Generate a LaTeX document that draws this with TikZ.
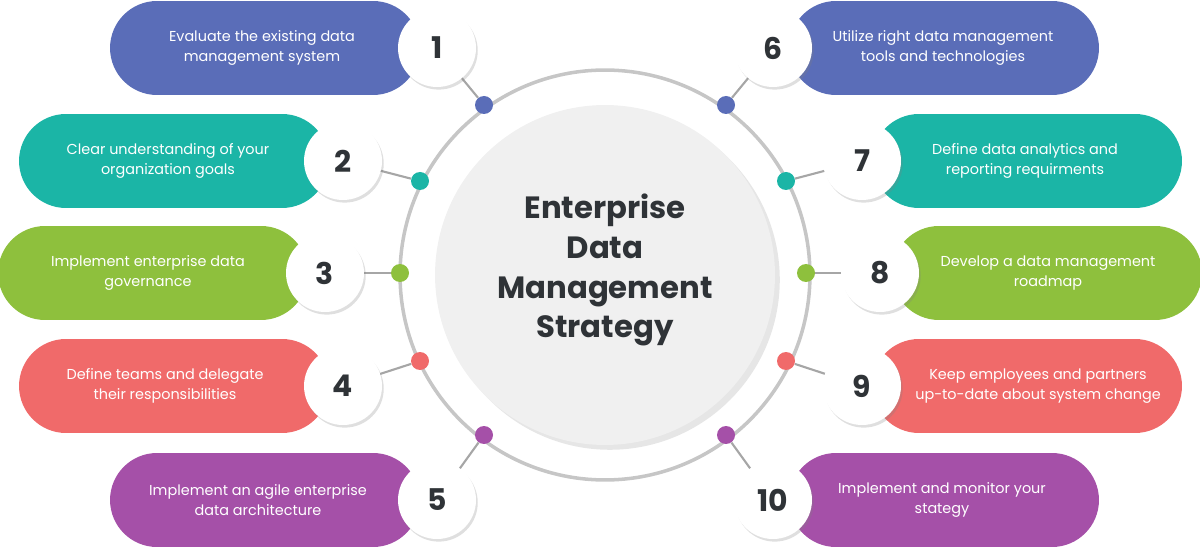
\documentclass[tikz,border=0pt]{standalone}
\usepackage{fontspec}
\setmainfont{Poppins}
\usetikzlibrary{shadows}
\definecolor{cblue}{HTML}{5A6DB8}
\definecolor{cteal}{HTML}{1BB5A6}
\definecolor{cgreen}{HTML}{8EC03D}
\definecolor{cred}{HTML}{F06A6A}
\definecolor{cpurple}{HTML}{A550A8}
\definecolor{ctitle}{HTML}{2F3337}
\tikzset{
  pill/.style={fill=#1,rounded corners=0.94cm,minimum height=1.88cm,minimum width=6.2cm,inner sep=0pt},
  pilltext/.style={text=white,align=center,font=\fontsize{8.2}{11.4}\selectfont},
  numbox/.style={circle,fill=white,minimum size=1.56cm,inner sep=0pt,font=\fontsize{17}{17}\selectfont\bfseries,text=ctitle,drop shadow={opacity=0.25,shadow xshift=1pt,shadow yshift=-1.5pt}},
  dotmark/.style={circle,fill=#1,minimum size=0.36cm,inner sep=0pt},
  spoke/.style={draw=gray!70,line width=1.2pt}
}
\begin{document}
\begin{tikzpicture}[x=0.02cm,y=-0.02cm]
  \useasboundingbox (0,0) rectangle (1200,550);
  % centre
  \node[circle,draw=gray!45,line width=2pt,minimum size=8.2cm] (ring) at (605,275) {};
  \node[circle,fill=gray!12,minimum size=6.8cm,drop shadow={opacity=0.2}] (core) at (605,275) {};
  \node[font=\fontsize{17.5}{22.7}\selectfont\bfseries,text=ctitle,align=center] (title) at (605,270)
    {Enterprise\\Data\\Management\\Strategy};
  % left items: number/pill centre x/y/text x/colour/dot x/dot y/number x
  \foreach \n/\px/\py/\tx/\col/\dx/\dy/\nx/\txt in {
      1/265/48/262/cblue/484/105/437/{Evaluate the existing data\\management system},
      2/174/161/168/cteal/420/181/343/{Clear understanding of your\\organization goals},
      3/153/273/148/cgreen/400/273/325/{Implement enterprise data\\governance},
      4/174/386/165/cred/420/361/343/{Define teams and delegate\\their responsibilities},
      5/265/500/258/cpurple/484/435/437/{Implement an agile enterprise\\data architecture}} {
    \node[pill=\col] (p\n) at (\px,\py) {};
    \node[pilltext] (t\n) at (\tx,\py) {\txt};
    \node[dotmark=\col] (d\n) at (\dx,\dy) {};
    \draw[spoke] (\nx,\py) -- (d\n);
    \node[numbox] (n\n) at (\nx,\py) {\n};
  }
  % right items
  \foreach \n/\px/\py/\tx/\col/\dx/\dy/\nx/\txt in {
      6/944/48/943/cblue/726/105/773/{Utilize right data management\\tools and technologies},
      7/1027/161/1025/cteal/786/181/862/{Define data analytics and\\reporting requirments},
      8/1047/273/1048/cgreen/806/273/880/{Develop a data management\\roadmap},
      9/1027/386/1038/cred/786/361/862/{Keep employees and partners\\up-to-date about system change},
      10/944/500/942/cpurple/726/435/773/{Implement and monitor your\\stategy}} {
    \node[pill=\col] (p\n) at (\px,\py) {};
    \node[pilltext] (t\n) at (\tx,\py) {\txt};
    \node[dotmark=\col] (d\n) at (\dx,\dy) {};
    \draw[spoke] (\nx,\py) -- (d\n);
    \node[numbox] (n\n) at (\nx,\py) {\n};
  }
\end{tikzpicture}
\end{document}
